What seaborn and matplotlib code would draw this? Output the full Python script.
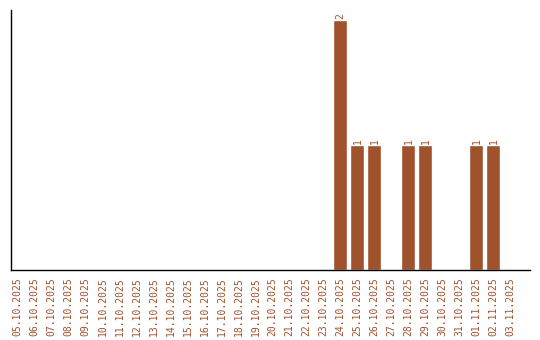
import matplotlib
matplotlib.use("Agg")
import matplotlib.pyplot as plt
import seaborn as sns
import pandas as pd

dates = ["05.10.2025", "06.10.2025", "07.10.2025", "08.10.2025", "09.10.2025",
         "10.10.2025", "11.10.2025", "12.10.2025", "13.10.2025", "14.10.2025",
         "15.10.2025", "16.10.2025", "17.10.2025", "18.10.2025", "19.10.2025",
         "20.10.2025", "21.10.2025", "22.10.2025", "23.10.2025", "24.10.2025",
         "25.10.2025", "26.10.2025", "27.10.2025", "28.10.2025", "29.10.2025",
         "30.10.2025", "31.10.2025", "01.11.2025", "02.11.2025", "03.11.2025"]
counts = [0, 0, 0, 0, 0, 0, 0, 0, 0, 0,
          0, 0, 0, 0, 0, 0, 0, 0, 0, 2,
          1, 1, 0, 1, 1, 0, 0, 1, 1, 0]

color = "#A0522D"
sns.set_style("white")
plt.rcParams["font.family"] = ["DejaVu Sans Mono", "DejaVu Sans"]

df = pd.DataFrame({"date": dates, "count": counts})
fig = plt.figure(figsize=(5.4, 3.4), dpi=100)
ax = fig.add_axes([11/540, 70/340, 519/540, 260/340])
sns.barplot(data=df, x="date", y="count", color=color, saturation=1,
            width=0.82, ax=ax, order=dates)
for i, v in enumerate(counts):
    if v > 0:
        ax.text(i, v + 0.01, str(v), rotation=90, ha="center", va="bottom",
                fontsize=7, color=color)
ax.set_xlim(-0.38, 30.15)
ax.set_ylim(0, 2.08)
ax.set_yticks([])
ax.set_xlabel("")
ax.set_ylabel("")
ax.tick_params(axis="x", rotation=90, labelsize=7, labelcolor=color, length=0, pad=5)
for s in ["top", "right"]:
    ax.spines[s].set_visible(False)
for s in ["left", "bottom"]:
    ax.spines[s].set_color("black")
    ax.spines[s].set_linewidth(1)
fig.savefig("out.png", dpi=100)
